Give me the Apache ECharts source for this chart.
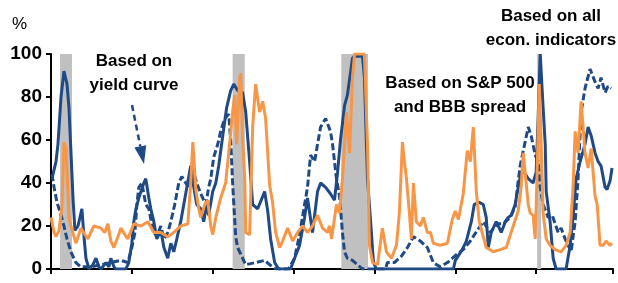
<!DOCTYPE html>
<html>
<head>
<meta charset="UTF-8">
<script src="https://cdn.jsdelivr.net/npm/echarts@6/dist/echarts.min.js"></script>
<style>
  html, body { margin: 0; padding: 0; background: #fff; }
  #chart { width: 618px; height: 283px; }
</style>
</head>
<body>
<div id="chart"></div>
<script>
// ---- data (decimal years / %) ----

// based on all econ. indicators (solid)
const allDates = [1990.06,1990.31,1990.43,1990.62,1990.80,1990.99,1991.11,1991.23,1991.36,1991.48,1991.67,1991.91,1992.04,1992.16,1992.35,1992.59,1992.78,1992.96,1993.09,1993.40,1993.58,1993.70,1993.89,1994.01,1994.63,1994.81,1995.00,1995.12,1995.25,1995.43,1995.56,1995.74,1995.86,1996.05,1996.17,1996.36,1996.54,1996.79,1996.98,1997.22,1997.41,1997.59,1997.78,1998.02,1998.21,1998.40,1998.64,1998.83,1999.01,1999.26,1999.44,1999.63,1999.75,2000.00,2000.19,2000.37,2000.62,2000.86,2001.11,2001.30,2001.54,2001.85,2002.04,2002.28,2002.47,2002.78,2003.21,2003.40,2003.58,2003.83,2004.07,2004.81,2005.06,2005.37,2005.68,2005.86,2006.17,2006.48,2006.67,2006.98,2007.28,2007.53,2007.72,2007.90,2008.15,2008.33,2008.64,2008.77,2009.26,2009.38,2009.57,2009.81,2009.94,2010.12,2014.88,2015.00,2015.43,2015.68,2015.99,2016.17,2016.48,2016.73,2016.91,2017.04,2017.22,2017.53,2017.84,2018.09,2018.27,2018.46,2018.70,2018.89,2019.07,2019.26,2019.51,2019.81,2020.00,2020.12,2020.25,2020.31,2020.43,2020.56,2020.62,2020.86,2021.05,2021.23,2021.85,2022.10,2022.28,2022.47,2022.72,2023.02,2023.21,2023.40,2023.64,2023.83,2024.01,2024.26,2024.38,2024.57,2024.69];
const allVals = [42,50,58,80,92,86,75,55,33,18,20,28,15,5,0,2,5,1,0,3,1,5,1,0,0,3,12,22,28,33,36,40,42,33,28,22,14,18,10,5,12,8,14,22,30,38,48,38,30,28,22,30,25,36,40,48,62,75,83,86,83,82,73,50,30,28,36,27,14,3,0,0,5,11,24,33,17,36,40,38,35,32,45,60,76,81,98,99,99,89,42,17,3,0,0,4,9,13,22,30,31,30,24,10,17,22,17,22,24,25,30,38,45,45,42,40,45,70,100,100,75,58,36,22,5,0,0,11,24,42,50,58,66,62,54,50,48,38,37,41,47];

// based on yield curve (dashed)
const ycDates = [1990.06,1990.19,1990.37,1990.62,1990.80,1990.99,1991.23,1991.54,1991.85,1992.47,1993.09,1993.70,1994.32,1994.75,1995.00,1995.19,1995.31,1995.43,1995.62,1995.86,1996.05,1996.30,1996.54,1996.79,1996.98,1997.22,1997.41,1997.65,1997.90,1998.09,1998.33,1998.52,1998.77,1999.01,1999.26,1999.57,1999.75,1999.88,2000.06,2000.31,2000.49,2000.74,2000.99,2001.11,2001.23,2001.42,2001.54,2002.04,2002.65,2003.21,2003.52,2003.89,2004.69,2005.06,2005.37,2005.68,2005.86,2006.05,2006.30,2006.48,2006.67,2006.98,2007.28,2007.41,2007.65,2007.84,2008.02,2008.15,2008.33,2008.64,2008.95,2009.26,2010.68,2010.80,2011.23,2011.67,2012.04,2012.41,2012.84,2013.27,2013.64,2014.07,2014.51,2015.12,2015.49,2015.93,2016.36,2016.73,2017.16,2017.59,2017.96,2018.40,2018.70,2018.89,2019.01,2019.20,2019.51,2019.69,2019.94,2020.12,2020.25,2020.43,2020.74,2020.99,2021.36,2021.54,2021.79,2021.98,2022.16,2022.28,2022.41,2022.59,2022.78,2023.02,2023.33,2023.64,2023.83,2024.01,2024.26,2024.44,2024.63];
const ycVals = [44,38,31,25,20,14,8,3,1,1,2,3,4,3,10,17,30,38,40,30,28,18,15,20,14,17,22,30,40,43,40,38,46,40,35,30,38,42,52,58,64,70,72,60,40,15,10,2,3,4,2,0,0,5,16,30,38,53,50,58,66,70,64,58,42,34,17,8,5,4,2,0,0,3,3,6,10,15,13,10,3,1,3,7,9,13,18,22,17,21,21,24,29,41,48,55,66,62,53,50,38,30,24,25,17,19,14,11,8,15,22,42,73,84,93,87,84,89,82,85,84];

// based on S&P 500 and BBB spread (orange)
const spDates = [1990.00,1990.19,1990.31,1990.49,1990.68,1990.80,1990.93,1991.11,1991.23,1991.54,1991.85,1992.10,1992.28,1992.65,1993.09,1993.33,1993.52,1993.70,1993.89,1994.14,1994.32,1994.57,1994.75,1995.12,1995.56,1995.99,1996.36,1996.79,1997.22,1997.59,1998.02,1998.46,1998.64,1998.77,1998.95,1999.14,1999.26,1999.51,1999.69,1999.88,2000.00,2000.19,2000.49,2000.80,2000.99,2001.23,2001.36,2001.48,2001.67,2001.73,2001.85,2001.98,2002.04,2002.28,2002.47,2002.65,2002.90,2003.09,2003.27,2003.52,2003.70,2003.89,2004.14,2004.32,2004.63,2004.94,2005.25,2005.56,2005.86,2006.17,2006.48,2006.79,2007.10,2007.22,2007.35,2007.65,2007.84,2008.02,2008.27,2008.46,2008.64,2008.77,2009.38,2009.57,2009.69,2009.88,2010.19,2010.49,2010.74,2011.05,2011.36,2011.54,2011.73,2011.85,2011.98,2012.16,2012.28,2012.41,2012.59,2012.84,2013.02,2013.27,2013.46,2013.64,2014.07,2014.51,2014.81,2015.00,2015.19,2015.49,2015.74,2015.93,2016.11,2016.30,2016.48,2016.73,2016.91,2017.35,2017.78,2018.15,2018.58,2018.89,2019.07,2019.20,2019.38,2019.51,2019.63,2019.81,2019.94,2020.06,2020.19,2020.31,2020.43,2020.62,2020.86,2021.17,2021.54,2021.85,2022.10,2022.28,2022.41,2022.59,2022.78,2023.02,2023.21,2023.40,2023.64,2023.77,2023.95,2024.14,2024.32,2024.57,2024.69];
const spVals = [24,17,15,18,29,59,56,24,20,12,19,16,14,20,19,17,21,13,10,15,19,16,14,21,20,22,17,17,15,17,20,21,40,59,37,28,24,30,32,20,16,24,33,40,54,73,81,58,89,91,60,42,17,16,66,86,73,78,70,39,31,17,10,13,19,13,17,20,17,20,25,19,17,20,14,30,26,42,73,54,89,100,100,58,11,3,2,19,8,5,11,26,59,50,42,26,14,40,22,20,24,17,17,12,11,12,23,27,23,35,55,50,66,36,22,15,10,8,9,10,20,27,38,54,40,30,26,25,14,45,86,58,26,14,11,9,8,11,17,38,64,54,78,54,47,56,34,30,11,11,13,11,12];

// recessions (start, end)
const recessions = [[1990.56, 1991.30], [2001.23, 2001.98], [2007.95, 2009.60], [2020.06, 2020.31]];

const yTicks = [0, 20, 40, 60, 80, 100];

const NAVY = '#1F4A85';
const ORANGE = '#F79646';
const zip = (a, b) => a.map((d, i) => [d, b[i]]);

const chart = echarts.init(document.getElementById('chart'));

chart.setOption({
  animation: false,
  grid: { left: 51, right: 5, top: 54, bottom: 14 },
  xAxis: {
    type: 'value',
    min: 1990,
    max: 2024.75,
    interval: 5,
    axisLine: { lineStyle: { color: '#000', width: 2 } },
    axisTick: { show: true, length: 5, lineStyle: { color: '#000', width: 2 } },
    axisLabel: { show: false },
    splitLine: { show: false }
  },
  yAxis: {
    type: 'value',
    min: 0,
    max: 100,
    interval: 20,
    axisLine: { show: true, lineStyle: { color: '#000', width: 2 } },
    axisTick: { show: true, length: 5, lineStyle: { color: '#000', width: 2 } },
    axisLabel: {
      margin: 9,
      color: '#000',
      fontFamily: 'Liberation Sans',
      fontWeight: 'bold',
      fontSize: 19,
      formatter: v => yTicks.includes(v) ? String(v) : ''
    },
    splitLine: { show: false }
  },
  series: [
    {
      type: 'line',
      z: 1,
      data: [],
      markArea: {
        silent: true,
        itemStyle: { color: '#C0C0C0' },
        data: recessions.map(r => [{ xAxis: r[0] }, { xAxis: r[1] }])
      }
    },
    {
      name: 'yield curve',
      type: 'line',
      z: 3,
      data: zip(ycDates, ycVals),
      showSymbol: false,
      lineStyle: { color: NAVY, width: 3, type: [7, 3] }
    },
    {
      name: 'all econ. indicators',
      type: 'line',
      z: 4,
      data: zip(allDates, allVals),
      showSymbol: false,
      lineStyle: { color: NAVY, width: 3 }
    },
    {
      name: 'S&P 500 and BBB spread',
      type: 'line',
      z: 5,
      data: zip(spDates, spVals),
      showSymbol: false,
      lineStyle: { color: ORANGE, width: 3 }
    }
  ],
  graphic: [
    {
      type: 'text', x: 12, y: 16,
      style: { text: '%', font: '17px "Liberation Sans"', fill: '#000' }
    },
    {
      type: 'text', x: 134, y: 49,
      style: {
        text: 'Based on\nyield curve', font: 'bold 17px "Liberation Sans"',
        fill: '#000', align: 'center', lineHeight: 24
      }
    },
    {
      type: 'text', x: 460, y: 71,
      style: {
        text: 'Based on S&P 500\nand BBB spread', font: 'bold 17px "Liberation Sans"',
        fill: '#000', align: 'center', lineHeight: 24
      }
    },
    {
      type: 'text', x: 551, y: 4,
      style: {
        text: 'Based on all\necon. indicators', font: 'bold 17px "Liberation Sans"',
        fill: '#000', align: 'center', lineHeight: 24
      }
    },
    {
      type: 'line',
      shape: { x1: 132, y1: 105, x2: 140.3, y2: 146.4 },
      style: { stroke: NAVY, lineWidth: 2.5, lineDash: [6, 4] }
    },
    {
      type: 'polygon',
      shape: { points: [[144, 164], [146.2, 145.2], [134.4, 147.6]] },
      style: { fill: NAVY }
    }
  ]
});
</script>
</body>
</html>
